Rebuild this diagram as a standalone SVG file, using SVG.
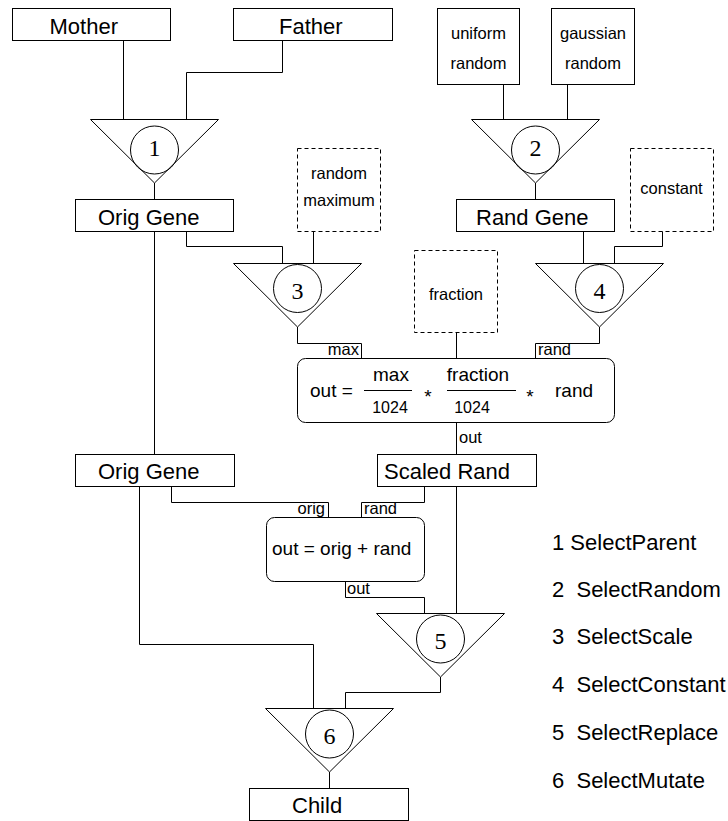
<svg xmlns="http://www.w3.org/2000/svg" width="728" height="821" viewBox="0 0 728 821">
<style>
.box{fill:#fff;stroke:#000;stroke-width:1}
.dash{fill:#fff;stroke:#000;stroke-width:1;stroke-dasharray:4,3}
.tri{fill:#fff;stroke:#000;stroke-width:1}
.circ{fill:none;stroke:#000;stroke-width:1}
.wire{fill:none;stroke:#000;stroke-width:1}
text{font-family:"Liberation Sans",Arial,sans-serif;fill:#000}
.big{font-size:22px}
.sm{font-size:16.5px}
.fx{font-size:19px}
.den{font-size:16px}
.num{font-family:"Liberation Serif","Times New Roman",serif;font-size:24px}
.leg{font-size:22px}
</style>
<rect width="728" height="821" fill="#fff"/>
<g id="connectors">
<path class="wire" d="M123.5,40 V119"/>
<path class="wire" d="M282.5,40 V72.5 H186.5 V119"/>
<path class="wire" d="M154.5,183 V199"/>
<path class="wire" d="M503.5,84 V119"/>
<path class="wire" d="M567.5,84 V119"/>
<path class="wire" d="M535.5,183 V199"/>
<path class="wire" d="M186.5,231 V246.5 H282.5 V263"/>
<path class="wire" d="M313.5,231 V263"/>
<path class="wire" d="M583.5,231 V263"/>
<path class="wire" d="M662.5,231 V246.5 H614.5 V263"/>
<path class="wire" d="M297.5,327 V343.5 H361.5 V358"/>
<path class="wire" d="M599.5,327 V343.5 H535.5 V358"/>
<path class="wire" d="M456.5,332 V358"/>
<path class="wire" d="M456.5,422 V454"/>
<path class="wire" d="M154.5,231 V454"/>
<path class="wire" d="M171.5,486 V502.5 H328.5 V517"/>
<path class="wire" d="M424.5,486 V502.5 H361.5 V517"/>
<path class="wire" d="M345.5,581 V597.5 H424.5 V613"/>
<path class="wire" d="M456.5,486 V613"/>
<path class="wire" d="M139.5,486 V644.5 H313.5 V708"/>
<path class="wire" d="M440.5,677 V692.5 H345.5 V708"/>
<path class="wire" d="M329.5,772 V788"/>
<text class="sm" x="359" y="355" text-anchor="end">max</text>
<text class="sm" x="538" y="355">rand</text>
<text class="sm" x="459" y="443">out</text>
<text class="sm" x="325" y="514" text-anchor="end">orig</text>
<text class="sm" x="364" y="514">rand</text>
<text class="sm" x="347" y="594">out</text>
</g>
<g id="mother"><rect class="box" x="12.5" y="8.5" width="158" height="32"/><text class="big" x="49.5" y="34">Mother</text></g>
<g id="father"><rect class="box" x="233.5" y="8.5" width="159" height="32"/><text class="big" x="279" y="34">Father</text></g>
<g id="uniform"><rect class="box" x="437.5" y="8.5" width="82" height="76"/><text class="sm" x="478.5" y="39" text-anchor="middle">uniform</text><text class="sm" x="478.5" y="69" text-anchor="middle">random</text></g>
<g id="gaussian"><rect class="box" x="551.5" y="8.5" width="83" height="76"/><text class="sm" x="593" y="39" text-anchor="middle">gaussian</text><text class="sm" x="593" y="69" text-anchor="middle">random</text></g>
<g id="sel1"><polygon class="tri" points="90.5,119.5 218.5,119.5 154.5,183"/><circle class="circ" cx="154.5" cy="150" r="24"/><text class="num" x="154.5" y="156" text-anchor="middle">1</text></g>
<g id="sel2"><polygon class="tri" points="471.5,119.5 599.5,119.5 535.5,183"/><circle class="circ" cx="535.5" cy="150" r="24"/><text class="num" x="535.5" y="156" text-anchor="middle">2</text></g>
<g id="origgene"><rect class="box" x="75.5" y="199.5" width="158" height="32"/><text class="big" x="98" y="225">Orig Gene</text></g>
<g id="randgene"><rect class="box" x="456.5" y="199.5" width="158" height="32"/><text class="big" x="476" y="225">Rand Gene</text></g>
<g id="randmax"><rect class="dash" x="297.5" y="148.5" width="83" height="83"/><text class="sm" x="339" y="179" text-anchor="middle">random</text><text class="sm" x="339" y="206" text-anchor="middle">maximum</text></g>
<g id="constant"><rect class="dash" x="630.5" y="148.5" width="83" height="83"/><text class="sm" x="671.5" y="194" text-anchor="middle">constant</text></g>
<g id="sel3"><polygon class="tri" points="233.5,263.5 361.5,263.5 297.5,327"/><circle class="circ" cx="297.5" cy="288.5" r="24"/><text class="num" x="297.5" y="299" text-anchor="middle">3</text></g>
<g id="sel4"><polygon class="tri" points="535.5,263.5 663.5,263.5 599.5,327"/><circle class="circ" cx="599.5" cy="288.5" r="24"/><text class="num" x="599.5" y="299" text-anchor="middle">4</text></g>
<g id="fraction"><rect class="dash" x="414.5" y="250.5" width="83" height="82"/><text class="sm" x="456" y="300" text-anchor="middle">fraction</text></g>
<g id="scale">
<rect class="box" x="297.5" y="358.5" width="317" height="64" rx="8"/>
<text class="fx" x="310" y="397">out =</text>
<text class="fx" x="391" y="381" text-anchor="middle">max</text>
<path class="wire" d="M364,390.5 H412"/>
<text class="den" x="390" y="413" text-anchor="middle">1024</text>
<text class="fx" x="428" y="403" text-anchor="middle">*</text>
<text class="fx" x="478" y="381" text-anchor="middle">fraction</text>
<path class="wire" d="M447,390.5 H516"/>
<text class="den" x="472" y="413" text-anchor="middle">1024</text>
<text class="fx" x="530" y="403" text-anchor="middle">*</text>
<text class="fx" x="555" y="397">rand</text>
</g>
<g id="origgene2"><rect class="box" x="75.5" y="454.5" width="159" height="32"/><text class="big" x="98" y="479">Orig Gene</text></g>
<g id="scaledrand"><rect class="box" x="377.5" y="454.5" width="159" height="32"/><text class="big" x="384" y="479">Scaled Rand</text></g>
<g id="add"><rect class="box" x="266.5" y="517.5" width="158" height="64" rx="8"/><text class="fx" x="272" y="555">out = orig + rand</text></g>
<g id="sel5"><polygon class="tri" points="376.5,613.5 504.5,613.5 440.5,677"/><circle class="circ" cx="440.5" cy="639" r="24"/><text class="num" x="440.5" y="649" text-anchor="middle">5</text></g>
<g id="sel6"><polygon class="tri" points="265.5,708.5 393.5,708.5 329.5,772"/><circle class="circ" cx="329.5" cy="734" r="24"/><text class="num" x="329.5" y="744" text-anchor="middle">6</text></g>
<g id="child"><rect class="box" x="249.5" y="788.5" width="159" height="32"/><text class="big" x="292" y="813">Child</text></g>
<g id="legend">
<text class="leg" x="552" y="550" xml:space="preserve">1 SelectParent</text>
<text class="leg" x="552" y="597" xml:space="preserve">2  SelectRandom</text>
<text class="leg" x="552" y="644" xml:space="preserve">3  SelectScale</text>
<text class="leg" x="552" y="692" xml:space="preserve">4  SelectConstant</text>
<text class="leg" x="552" y="740" xml:space="preserve">5  SelectReplace</text>
<text class="leg" x="552" y="788" xml:space="preserve">6  SelectMutate</text>
</g>
</svg>
